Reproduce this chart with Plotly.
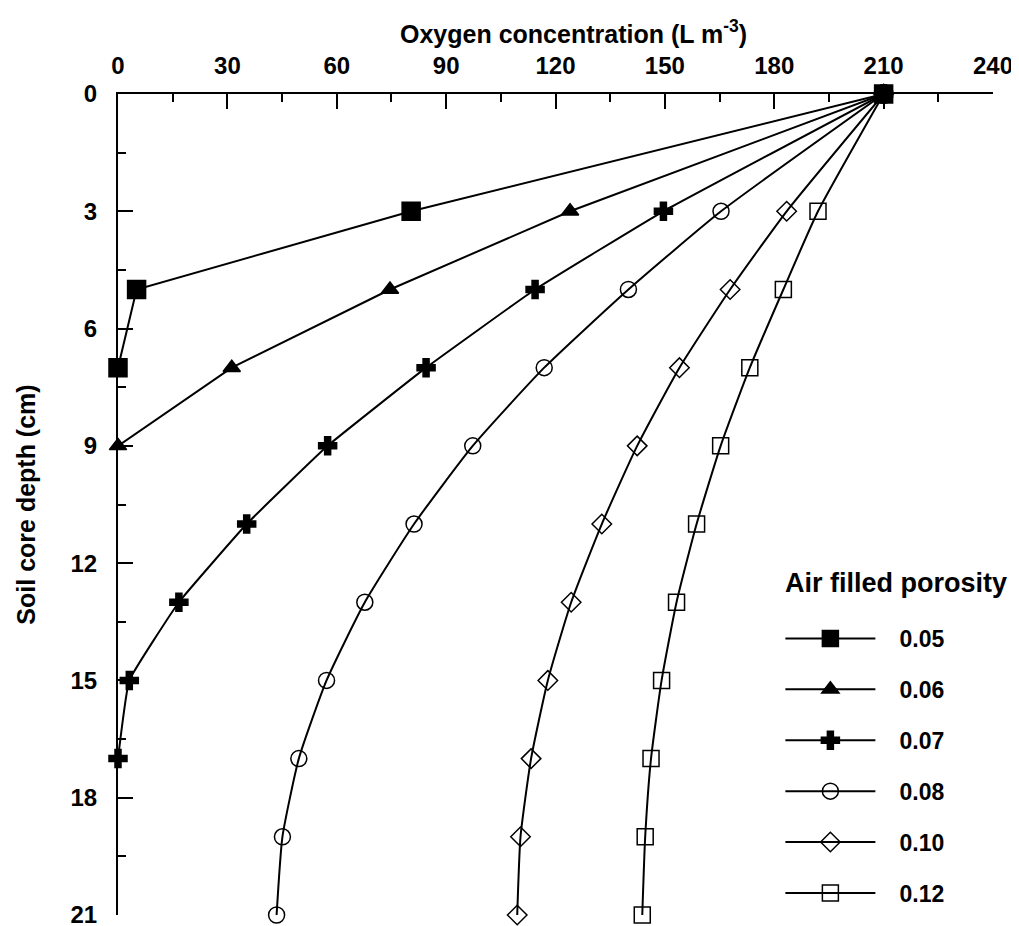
import plotly.graph_objects as go

# Data
depth_005 = [0, 3, 5, 7]
oxy_005 = [210, 80.4, 5.1, 0]

depth_006 = [0, 3, 5, 7, 9]
oxy_006 = [210, 124, 74.6, 31.2, 0]

depth_007 = [0, 3, 5, 7, 9, 11, 13, 15, 17]
oxy_007 = [210, 149.6, 114.4, 84.5, 57.5, 35.3, 16.7, 3.1, 0]

depth_full = [0, 3, 5, 7, 9, 11, 13, 15, 17, 19, 21]
oxy_008 = [210, 165.4, 140, 116.9, 97.3, 81.2, 67.7, 57.2, 49.6, 45.1, 43.5]
oxy_010 = [210, 183.4, 167.9, 154, 142.4, 132.7, 124.3, 117.9, 113.3, 110.4, 109.5]
oxy_012 = [210, 192, 182.5, 173.3, 165.3, 158.7, 153.2, 149.1, 146.2, 144.6, 143.8]

series_names = ["0.05", "0.06", "0.07", "0.08", "0.10", "0.12"]
series_x = [oxy_005, oxy_006, oxy_007, oxy_008, oxy_010, oxy_012]
series_y = [depth_005, depth_006, depth_007, depth_full, depth_full, depth_full]
symbols = ["square", "triangle-up", "cross", "circle-open", "diamond-open", "square-open"]
sizes = [18, 15, 15, 16, 15, 16]
smooth = [0, 0, 0.3, 0.5, 0.5, 0.5]

x_ticks = [0, 30, 60, 90, 120, 150, 180, 210, 240]
y_ticks = [0, 3, 6, 9, 12, 15, 18, 21]

FONT = "Liberation Sans, Arial, Helvetica, sans-serif"
NBSP = "\u00a0"

fig = go.Figure()
for i, name in enumerate(series_names):
    line = dict(color="black", width=2)
    if smooth[i] > 0:
        line.update(shape="spline", smoothing=smooth[i])
    fig.add_trace(go.Scatter(
        x=series_x[i], y=series_y[i], name=NBSP * 3 + name,
        mode="lines+markers",
        line=line,
        marker=dict(symbol=symbols[i], size=sizes[i], color="black",
                    line=dict(color="black", width=1.5)),
        cliponaxis=False,
        legendgroup=name,
    ))

axis_common = dict(
    showline=True, linecolor="black", linewidth=2,
    ticks="inside", ticklen=15, tickwidth=2, tickcolor="black",
    showgrid=False, zeroline=False, automargin=False,
    ticklabeloverflow="allow",
    tickfont=dict(family=FONT, size=24, color="black", weight="bold"),
)

fig.update_layout(
    width=1011, height=918,
    margin=dict(l=110, r=26, t=86, b=11),
    paper_bgcolor="white", plot_bgcolor="white",
    font=dict(family=FONT, color="black"),
    xaxis=dict(
        **axis_common,
        side="top", range=[0, 240], tickvals=x_ticks,
        minor=dict(dtick=15, tick0=0, ticks="inside", ticklen=8, tickwidth=2, tickcolor="black"),
        ticklabelstandoff=8,
    ),
    yaxis=dict(
        **axis_common,
        range=[21, 0], tickvals=y_ticks,
        minor=dict(dtick=1.5, tick0=0, ticks="inside", ticklen=8, tickwidth=2, tickcolor="black"),
        ticklabelstandoff=14,
        title=dict(text="Soil core depth (cm)",
                   font=dict(family=FONT, size=25, color="black", weight="bold"),
                   standoff=28),
    ),
    legend=dict(
        x=0.757, y=0.0, xanchor="left", yanchor="bottom",
        bgcolor="rgba(0,0,0,0)", borderwidth=0,
        font=dict(family=FONT, size=23, color="black", weight="bold"),
        itemwidth=90, tracegroupgap=18,
        traceorder="grouped",
    ),
    annotations=[
        dict(
            text="Oxygen concentration (L m<sup>-3</sup>)", xref="paper", yref="paper",
            x=0.52, y=1.075, xanchor="center", yanchor="middle", showarrow=False,
            font=dict(family=FONT, size=25, color="black", weight="bold"),
        ),
        dict(
            text="Air filled porosity", xref="paper", yref="paper",
            x=0.76, y=0.404, xanchor="left", yanchor="middle", showarrow=False,
            font=dict(family=FONT, size=27, color="black", weight="bold"),
        ),
    ],
)

fig.write_html("out.html")
